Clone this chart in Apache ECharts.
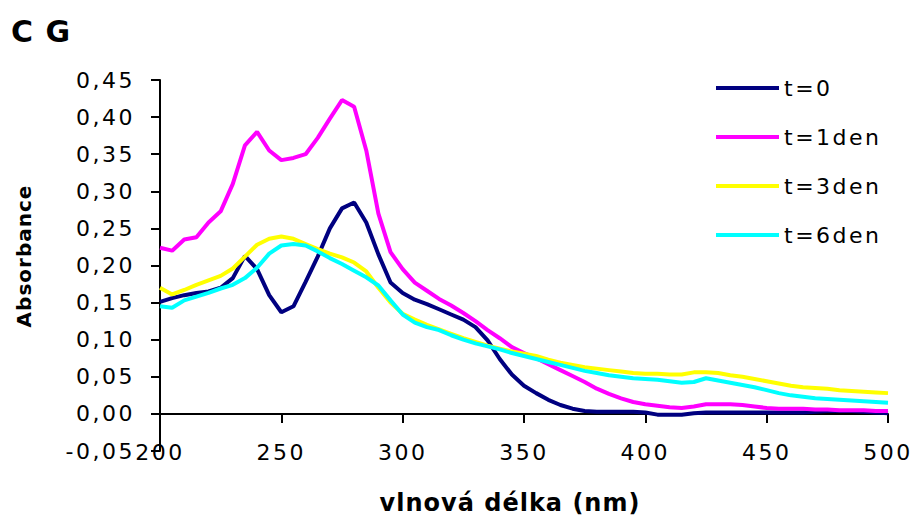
<!DOCTYPE html>
<html lang="cs">
<head>
    <meta charset="UTF-8">
    <title>C G</title>
    <style>
        html, body { margin: 0; padding: 0; background: #fff; }
        #chart { width: 915px; height: 517px; }
        /* popisky v originale jsou prostrkane */
        #chart text { letter-spacing: 2.5px; }
        #chart text[style*="bold"], #chart text[font-weight="bold"] { letter-spacing: 1px; }
    </style>
</head>
<body>
    <div id="chart"></div>
    <script src="https://cdn.jsdelivr.net/npm/echarts@6/dist/echarts.min.js"></script>
    <script type="text/javascript">
        // vlnova delka (nm), krok 5 nm
        var wavelengths = [200, 205, 210, 215, 220, 225, 230, 235, 240, 245,
            250, 255, 260, 265, 270, 275, 280, 285, 290, 295,
            300, 305, 310, 315, 320, 325, 330, 335, 340, 345,
            350, 355, 360, 365, 370, 375, 380, 385, 390, 395,
            400, 405, 410, 415, 420, 425, 430, 435, 440, 445,
            450, 455, 460, 465, 470, 475, 480, 485, 490, 495, 500];

        var seriesNames = ['t=0', 't=1den', 't=3den', 't=6den'];

        var abs_t0 = [0.151, 0.156, 0.160, 0.163, 0.165, 0.170, 0.183, 0.213, 0.195, 0.160,
            0.137, 0.145, 0.178, 0.212, 0.250, 0.277, 0.285, 0.258, 0.215, 0.177,
            0.163, 0.154, 0.148, 0.141, 0.134, 0.127, 0.117, 0.099, 0.074, 0.053,
            0.038, 0.028, 0.019, 0.012, 0.007, 0.004, 0.003, 0.003, 0.003, 0.003,
            0.002, -0.001, -0.001, -0.001, 0.001, 0.002, 0.002, 0.002, 0.002, 0.002,
            0.002, 0.002, 0.002, 0.002, 0.003, 0.004, 0.004, 0.004, 0.003, 0.002, 0.001];

        var abs_t1 = [0.224, 0.220, 0.235, 0.238, 0.258, 0.273, 0.310, 0.362, 0.380, 0.355,
            0.342, 0.345, 0.350, 0.372, 0.398, 0.423, 0.414, 0.355, 0.270, 0.218,
            0.195, 0.177, 0.166, 0.155, 0.146, 0.136, 0.125, 0.113, 0.102, 0.090,
            0.082, 0.075, 0.067, 0.059, 0.051, 0.043, 0.034, 0.027, 0.021, 0.016,
            0.013, 0.011, 0.009, 0.008, 0.010, 0.013, 0.013, 0.013, 0.012, 0.010,
            0.008, 0.007, 0.007, 0.007, 0.006, 0.006, 0.005, 0.005, 0.005, 0.004, 0.004];

        var abs_t3 = [0.170, 0.161, 0.167, 0.174, 0.180, 0.186, 0.196, 0.212, 0.228, 0.236,
            0.239, 0.236, 0.229, 0.222, 0.216, 0.211, 0.204, 0.192, 0.170, 0.150,
            0.135, 0.127, 0.120, 0.114, 0.108, 0.102, 0.097, 0.092, 0.088, 0.084,
            0.081, 0.078, 0.073, 0.069, 0.066, 0.063, 0.061, 0.059, 0.057, 0.055,
            0.054, 0.054, 0.053, 0.053, 0.056, 0.056, 0.055, 0.052, 0.050, 0.047,
            0.044, 0.041, 0.038, 0.036, 0.035, 0.034, 0.032, 0.031, 0.030, 0.029, 0.028];

        var abs_t6 = [0.145, 0.143, 0.153, 0.158, 0.163, 0.169, 0.174, 0.183, 0.197, 0.216,
            0.227, 0.229, 0.227, 0.219, 0.210, 0.202, 0.193, 0.184, 0.173, 0.153,
            0.134, 0.123, 0.117, 0.113, 0.106, 0.100, 0.095, 0.091, 0.087, 0.082,
            0.078, 0.074, 0.070, 0.066, 0.062, 0.058, 0.055, 0.052, 0.050, 0.048,
            0.047, 0.046, 0.044, 0.042, 0.043, 0.048, 0.045, 0.042, 0.039, 0.036,
            0.032, 0.028, 0.025, 0.023, 0.021, 0.020, 0.019, 0.018, 0.017, 0.016, 0.015];

        var seriesValues = [abs_t0, abs_t1, abs_t3, abs_t6];
        var seriesColors = ['#000080', '#FF00FF', '#FFFF00', '#00FFFF'];

        var FONT = 'DejaVu Sans';

        var pairs = function(values){
            return wavelengths.map(function(w, i){ return [w, values[i]]; });
        };

        var series = [];
        for (var i = 0; i < seriesNames.length; i++) {
            series.push({
                name: seriesNames[i],
                type: 'line',
                xAxisIndex: 0,
                data: pairs(seriesValues[i]),
                showSymbol: false,
                symbol: 'none',
                smooth: false,
                color: seriesColors[i],
                lineStyle: { width: 4, color: seriesColors[i] }
            });
        }

        var myChart = echarts.init(document.getElementById('chart'), null, { renderer: 'svg' });
        myChart.setOption({
            animation: false,
            backgroundColor: '#fff',
            textStyle: { fontFamily: FONT, color: '#000' },
            title: {
                text: 'C G',
                left: 6,
                top: 11,
                textStyle: { fontFamily: FONT, fontWeight: 'bold', fontSize: 30, color: '#000' }
            },
            legend: {
                orient: 'vertical',
                left: 711,
                top: 72,
                icon: 'rect',
                itemWidth: 63,
                itemHeight: 4,
                itemGap: 27,
                data: seriesNames,
                textStyle: { fontFamily: FONT, fontSize: 22, color: '#000', lineHeight: 22 }
            },
            grid: { left: 160, right: 27, top: 80, bottom: 66, containLabel: false },
            xAxis: [
                {
                    // osa v nule s carkami dolu
                    type: 'value',
                    position: 'top',
                    min: 200,
                    max: 500,
                    interval: 50,
                    axisLine: { show: true, onZero: true, lineStyle: { color: '#000', width: 2 } },
                    axisTick: { show: true, inside: true, length: 9, lineStyle: { color: '#000', width: 2 } },
                    axisLabel: { show: false },
                    splitLine: { show: false }
                },
                {
                    // popisky dole
                    type: 'value',
                    position: 'bottom',
                    min: 200,
                    max: 500,
                    interval: 50,
                    axisLine: { show: false, onZero: false },
                    axisTick: { show: false },
                    axisLabel: { margin: 1, verticalAlign: 'middle', fontFamily: FONT, fontSize: 22, color: '#000' },
                    splitLine: { show: false }
                }
            ],
            yAxis: {
                type: 'value',
                min: -0.05,
                max: 0.45,
                interval: 0.05,
                axisLine: { show: true, onZero: false, lineStyle: { color: '#000', width: 2 } },
                axisTick: { show: true, length: 9, lineStyle: { color: '#000', width: 2 } },
                axisLabel: {
                    margin: 25,
                    fontFamily: FONT,
                    fontSize: 22,
                    color: '#000',
                    formatter: function(v){
                        if (Math.abs(v) < 1e-9) v = 0;
                        return v.toFixed(2).replace('.', ',');
                    }
                },
                splitLine: { show: false }
            },
            graphic: [
                {
                    type: 'text',
                    x: 24,
                    y: 256,
                    rotation: Math.PI / 2,
                    style: {
                        text: 'Absorbance',
                        align: 'center',
                        verticalAlign: 'middle',
                        font: 'bold 20px "DejaVu Sans"',
                        fill: '#000'
                    }
                },
                {
                    type: 'text',
                    x: 510,
                    y: 503,
                    style: {
                        text: 'vlnová délka (nm)',
                        align: 'center',
                        verticalAlign: 'middle',
                        font: 'bold 24px "DejaVu Sans"',
                        fill: '#000'
                    }
                }
            ],
            series: series
        });
    </script>
</body>
</html>
